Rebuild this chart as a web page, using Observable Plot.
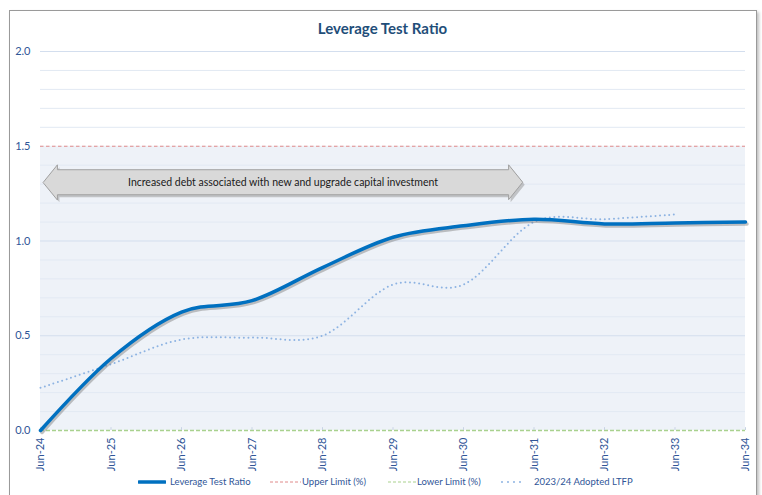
<!DOCTYPE html>
<html>
<head>
<meta charset="utf-8">
<script src="https://cdn.jsdelivr.net/npm/d3@7"></script>
<script src="https://cdn.jsdelivr.net/npm/@observablehq/plot@0.6"></script>
<style>
  html, body { margin: 0; padding: 0; background: #fff; }
  #wrap { position: relative; width: 762px; height: 495px; overflow: hidden; font-family: Lato, "Open Sans", sans-serif; }
  #frame { position: absolute; left: 9px; top: 10px; width: 746px; height: 500px; border: 1px solid #9a9a9a; box-shadow: 2px 2px 3px rgba(0,0,0,0.25); }
  #title { position: absolute; left: 0; width: 765px; top: 19px; text-align: center; font-weight: bold; font-size: 15px; color: #1f4e79; }
  #chart { position: absolute; left: 0; top: 40px; }
  .lg { position: absolute; top: 476px; font-size: 9.5px; color: #2f5597; white-space: nowrap; }
  .sw { position: absolute; top: 478px; }
</style>
</head>
<body>
<div id="wrap">
  <div id="frame"></div>
  <div id="title">Leverage Test Ratio</div>
  <div id="chart"></div>
  <svg class="sw" style="left:138px" width="28" height="8"><line x1="1" y1="4" x2="27" y2="4" stroke="#0070c0" stroke-width="3.5" stroke-linecap="round"/></svg>
  <span class="lg" style="left:170px">Leverage Test Ratio</span>
  <svg class="sw" style="left:270px" width="31" height="8"><line x1="0" y1="4" x2="31" y2="4" stroke="#e08a8a" stroke-width="1" stroke-dasharray="3 2"/></svg>
  <span class="lg" style="left:302px">Upper Limit (%)</span>
  <svg class="sw" style="left:388px" width="28" height="8"><line x1="0" y1="4" x2="28" y2="4" stroke="#a9d18e" stroke-width="1.2" stroke-dasharray="3 2"/></svg>
  <span class="lg" style="left:417px">Lower Limit (%)</span>
  <svg class="sw" style="left:500px" width="24" height="8"><line x1="2" y1="4" x2="22" y2="4" stroke="#8db3e2" stroke-width="2" stroke-dasharray="0 6" stroke-linecap="round"/></svg>
  <span class="lg" style="left:534px">2023/24 Adopted LTFP</span>
</div>
<script>
// ---- data ----
const categories = ["Jun-24","Jun-25","Jun-26","Jun-27","Jun-28","Jun-29","Jun-30","Jun-31","Jun-32","Jun-33","Jun-34"];
const leverageRatio = [0.00, 0.38, 0.625, 0.685, 0.86, 1.02, 1.08, 1.115, 1.09, 1.095, 1.10];
const adoptedLTFP = [0.225, 0.35, 0.48, 0.49, 0.50, 0.77, 0.77, 1.10, 1.115, 1.14, null];
const upperLimit = 1.5;
const lowerLimit = 0.0;
const yTicks = [0, 0.5, 1.0, 1.5, 2.0];
const annotationText = "Increased debt associated with new and upgrade capital investment";
const annotationFrom = 0.04;   // category index where the arrow starts
const annotationTo = 6.84;     // category index where the arrow ends
const annotationLevel = 1.31;  // ratio level of the arrow

// ---- build tables ----
const lev = leverageRatio.map((v, i) => ({i, v}));
const ltfp = adoptedLTFP.map((v, i) => ({i, v})).filter(d => d.v != null);
const minor = d3.range(0, 2.0001, 0.1).map(v => +v.toFixed(1)).filter(v => !yTicks.includes(v));

// arrow polygon (double headed) in data space
const head = 0.2, bh = 0.066, hh = 0.092;
const a0 = annotationFrom, a1 = annotationTo, ay = annotationLevel;
const arrow = [
  [a0, ay], [a0 + head, ay + hh], [a0 + head, ay + bh], [a1 - head, ay + bh],
  [a1 - head, ay + hh], [a1, ay], [a1 - head, ay - hh], [a1 - head, ay - bh],
  [a0 + head, ay - bh], [a0 + head, ay - hh]
].map(([x, y]) => ({x, y}));

const chart = Plot.plot({
  width: 762,
  height: 435,
  marginLeft: 40,
  marginRight: 17,
  marginTop: 11,
  marginBottom: 45,
  style: {fontFamily: "Lato, 'Open Sans', sans-serif", fontSize: "11px", color: "#2f5597", background: "transparent", overflow: "visible"},
  x: {domain: [0, categories.length - 1], label: null},
  y: {domain: [0, 2], label: null},
  marks: [
    Plot.rect([{}], {x1: 0, x2: categories.length - 1, y1: 0, y2: upperLimit, fill: "#eef2f8"}),
    Plot.ruleY(minor, {stroke: "#e2e9f3", strokeWidth: 1}),
    Plot.ruleY(yTicks.filter(v => v !== upperLimit && v !== lowerLimit), {stroke: "#d3deee", strokeWidth: 1}),
    Plot.ruleY([upperLimit], {stroke: "#e08a8a", strokeWidth: 1, strokeDasharray: "3.5 2.5"}),
    Plot.ruleY([lowerLimit], {stroke: "#a9d18e", strokeWidth: 1.5, strokeDasharray: "4 2"}),
    Plot.axisY({ticks: yTicks, tickFormat: d3.format(".1f"), tickSize: 0, tickPadding: 10, fontSize: 11}),
    Plot.axisX({ticks: d3.range(categories.length), tickFormat: i => categories[i], tickSize: 0, tickPadding: 7, tickRotate: -90, fontSize: 11}),
    Plot.ruleX(d3.range(categories.length), {y1: 0, y2: 0.015, stroke: "#c8d3e3"}),
    // annotation arrow
    Plot.line(arrow, {x: "x", y: "y", curve: "linear-closed", fill: "#8a8a8a", fillOpacity: 0.45, stroke: "none", dx: 2, dy: 2.5}),
    Plot.line(arrow, {x: "x", y: "y", curve: "linear-closed", fill: "#d9d9d9", stroke: "#a0a0a0", strokeWidth: 1}),
    Plot.text([annotationText], {x: (a0 + a1) / 2, y: ay, fill: "#1a1a1a", fontSize: 10.5}),
    // LTFP dotted
    Plot.line(ltfp, {x: "i", y: "v", curve: "cardinal", tension: 0, stroke: "#8db3e2", strokeWidth: 2, strokeDasharray: "0 4.6", strokeLinecap: "round"}),
    // main line with shadow
    Plot.line(lev, {x: "i", y: "v", curve: "cardinal", tension: 0, stroke: "#7a7a7a", strokeOpacity: 0.45, strokeWidth: 3.5, dx: 1.5, dy: 2}),
    Plot.line(lev, {x: "i", y: "v", curve: "cardinal", tension: 0, stroke: "#0070c0", strokeWidth: 3.5})
  ]
});
document.getElementById("chart").appendChild(chart);
</script>
</body>
</html>
